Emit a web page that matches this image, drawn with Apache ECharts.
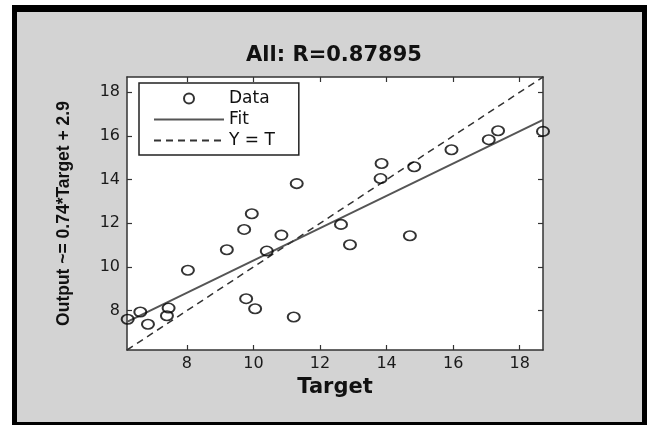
<!DOCTYPE html>
<html><head><meta charset="utf-8">
<script src="https://cdn.jsdelivr.net/npm/echarts@6/dist/echarts.min.js"></script>
<style>html,body{margin:0;padding:0;background:#fff}#c{width:647px;height:425px}</style>
</head><body><div id="c"></div>
<script>
const titleText = 'All: R=0.87895';
const xName = 'Target';
const yName = 'Output ~= 0.74*Target + 2.9';
const axisMin = 6.2, axisMax = 18.7;
const xTicks = [8, 10, 12, 14, 16, 18];
const yTicks = [8, 10, 12, 14, 16, 18];
const targets = [6.22, 6.6, 6.83, 7.45, 7.4, 8.03, 9.2, 9.72, 9.95, 9.78, 10.05, 10.4, 10.84, 11.21, 12.63, 12.9, 14.7, 11.3, 13.85, 13.82, 14.83, 15.95, 17.07, 17.35, 18.7];
const outputs = [7.61, 7.94, 7.38, 8.12, 7.77, 9.85, 10.79, 11.72, 12.44, 8.55, 8.09, 10.73, 11.46, 7.71, 11.95, 11.02, 11.43, 13.82, 14.74, 14.05, 14.59, 15.37, 15.83, 16.24, 16.21];
const fitT = [6.2, 18.7];
const fitO = [7.49, 16.74];
const identT = [6.2, 18.7];
const identO = [6.2, 18.7];
const legendNames = ['Data', 'Fit', 'Y = T'];

const chart = echarts.init(document.getElementById('c'), null, {renderer: 'canvas'});
const tickFont = {fontFamily: 'DejaVu Sans', fontSize: 16, color: '#1a1a1a'};
function mkX(pos, labels) {
  return {
    type: 'value', position: pos, min: axisMin, max: axisMax,
    name: labels ? xName : '', nameLocation: 'middle', nameGap: 20,
    nameTextStyle: {fontFamily: 'DejaVu Sans', fontWeight: 'bold', fontSize: 21, color: '#111'},
    axisLine: {show: true, onZero: false, lineStyle: {color: '#333', width: 1.5}},
    axisTick: {show: true, inside: true, length: 5, customValues: xTicks, lineStyle: {color: '#333', width: 1.2}},
    axisLabel: Object.assign({show: labels, margin: 6, customValues: xTicks}, tickFont),
    splitLine: {show: false}
  };
}
function mkY(pos, labels) {
  return {
    type: 'value', position: pos, min: axisMin, max: axisMax,
    name: labels ? yName : '', nameLocation: 'middle', nameGap: 54,
    nameTextStyle: {fontFamily: 'Liberation Sans', fontWeight: 'bold', fontSize: 17.5, color: '#111'},
    axisLine: {show: true, onZero: false, lineStyle: {color: '#333', width: 1.5}},
    axisTick: {show: true, inside: true, length: 5, customValues: yTicks, lineStyle: {color: '#333', width: 1.2}},
    axisLabel: Object.assign({show: labels, margin: 7, customValues: yTicks}, tickFont),
    splitLine: {show: false}
  };
}
chart.setOption({
  backgroundColor: '#fff',
  animation: false,
  graphic: [
    {type: 'rect', z: -10, shape: {x: 12, y: 5, width: 640, height: 425}, style: {fill: '#000'}},
    {type: 'rect', z: -9, shape: {x: 17, y: 12, width: 625, height: 410}, style: {fill: '#d3d3d3'}}
  ],
  title: {
    text: titleText, left: 334, textAlign: 'center', top: 45, padding: 0,
    textStyle: {fontFamily: 'DejaVu Sans', fontWeight: 'bold', fontSize: 21, color: '#111'}
  },
  grid: {left: 127, right: 104, top: 77, bottom: 75, show: true, backgroundColor: '#fff', borderWidth: 0},
  xAxis: [mkX('bottom', true), mkX('top', false)],
  yAxis: [mkY('left', true), mkY('right', false)],
  legend: {
    data: legendNames, orient: 'vertical', left: 139, top: 83,
    backgroundColor: '#fff', borderColor: '#222', borderWidth: 1.5, borderRadius: 0,
    padding: [7, 24, 6, 14], itemWidth: 70, itemHeight: 10, itemGap: 4,
    textStyle: {fontFamily: 'DejaVu Sans', fontSize: 17, color: '#111', lineHeight: 14},
    inactiveColor: '#111'
  },
  series: [
    {
      name: legendNames[0], type: 'scatter', xAxisIndex: 0, yAxisIndex: 0,
      data: targets.map((t, i) => [t, outputs[i]]),
      symbol: 'circle', symbolSize: [12, 9.5],
      itemStyle: {color: 'rgba(255,255,255,0)', borderColor: '#000', borderWidth: 1.8},
      z: 3
    },
    {
      name: legendNames[1], type: 'line', xAxisIndex: 0, yAxisIndex: 0,
      data: fitT.map((t, i) => [t, fitO[i]]), showSymbol: false, symbol: 'none',
      lineStyle: {color: '#555', width: 2}, itemStyle: {color: 'rgba(0,0,0,0)', borderWidth: 0}, z: 2
    },
    {
      name: legendNames[2], type: 'line', xAxisIndex: 0, yAxisIndex: 0,
      data: identT.map((t, i) => [t, identO[i]]), showSymbol: false, symbol: 'none',
      lineStyle: {color: '#333', width: 1.5, type: [7, 5]}, itemStyle: {color: 'rgba(0,0,0,0)', borderWidth: 0}, z: 2
    }
  ]
});
</script></body></html>
